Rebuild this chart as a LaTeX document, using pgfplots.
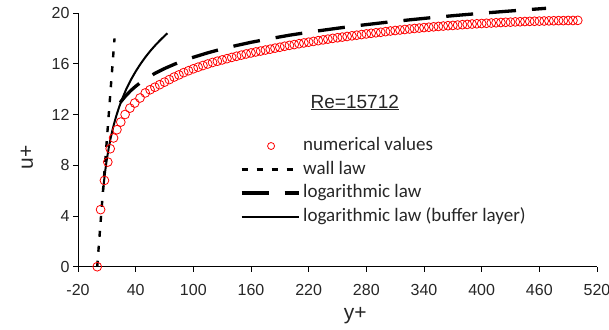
\documentclass[border=0pt]{standalone}
\usepackage{fontspec}
\setmainfont{Liberation Sans}
\newfontfamily\carlito{Carlito}
\usepackage{pgfplots}
\pgfplotsset{compat=1.18}
\pgfplotsset{
 lineleg/.style={legend image code/.code={\draw[##1] (0pt,0pt) -- (57pt,0pt);}},
 markleg/.style={legend image code/.code={\draw[##1, mark size=3.5pt] plot coordinates {(29.5pt,0pt)};}},
}
\begin{document}
\begin{tikzpicture}
\path[use as bounding box] (-78pt,-62.3pt) rectangle (531pt,266.7pt);
\begin{axis}[
 at={(0pt,0pt)}, anchor=south west,
 scale only axis, width=519pt, height=253.7pt,
 xmin=-20, xmax=520, ymin=0, ymax=20,
 axis x line*=bottom, axis y line*=left,
 axis line style={black, line width=0.8pt, -},
 xtick={-20,40,...,520}, ytick={0,4,...,20},
 xticklabels={-20,40,100,160,220,280,340,400,460,520},
 yticklabels={0,4,8,12,16,20},
 tick align=outside, major tick length=5pt,
 tick style={black, line width=0.8pt},
 ticklabel style={font=\fontsize{16}{16}\selectfont, text=black!85},
 xticklabel style={yshift=-9pt},
 clip=false,
 xlabel={y+}, ylabel={u+},
 label style={font=\fontsize{21}{21}\selectfont, text=black!85},
 xlabel style={at={(axis description cs:0.534,-0.192)}, anchor=center},
 ylabel style={at={(axis description cs:-0.0983,0.432)}, anchor=center},
 legend style={at={(axis description cs:0.312,0.522)}, anchor=north west,
   draw=none, fill=none, inner sep=0pt, outer sep=0pt,
   font=\carlito\fontsize{19}{19}\selectfont, text=black!85,
   row sep=0pt, column sep=0pt,
   nodes={inner xsep=3pt, inner ysep=3.25pt, text height=13pt, text depth=4pt}},
 legend cell align=left,
]
\addplot[only marks, mark=o, mark size=4.4pt, red, mark options={line width=0.8pt}, markleg]
 coordinates {
(0,0) (3.5,4.5) (7.5,6.8) (11,8.25) (13.5,9.3) (17,10.15) (20.5,10.8) (24.5,11.4)
(29,12.0) (34,12.5) (39,12.9) (44.5,13.3) (50,13.7) (55,13.95) (60,14.15) (65,14.35)
(70,14.55) (75,14.75) (80,14.95) (85,15.12) (90,15.3) (95,15.45) (100,15.6) (105,15.73)
(110,15.86) (115,15.98) (120,16.1) (125,16.2) (130,16.3) (135,16.4) (140,16.5) (145,16.59)
(150,16.68) (155,16.77) (160,16.85) (165,16.93) (170,17.0) (175,17.08) (180,17.15) (185,17.23)
(190,17.3) (195,17.38) (200,17.45) (205,17.51) (210,17.58) (215,17.64) (220,17.7) (225,17.76)
(230,17.82) (235,17.88) (240,17.94) (245,18.0) (250,18.05) (255,18.1) (260,18.15) (265,18.2)
(270,18.25) (275,18.3) (280,18.35) (285,18.4) (290,18.44) (295,18.48) (300,18.53) (305,18.58)
(310,18.62) (315,18.66) (320,18.7) (325,18.74) (330,18.78) (335,18.81) (340,18.85) (345,18.88)
(350,18.91) (355,18.94) (360,18.97) (365,19.0) (370,19.02) (375,19.05) (380,19.08) (385,19.1)
(390,19.13) (395,19.15) (400,19.17) (405,19.19) (410,19.21) (415,19.23) (420,19.25) (425,19.27)
(430,19.28) (435,19.3) (440,19.31) (445,19.33) (450,19.34) (455,19.35) (460,19.36) (465,19.37)
(470,19.38) (475,19.39) (480,19.4) (485,19.4) (490,19.41) (495,19.41) (500,19.42)
};
\addlegendentry{numerical values}
\addplot[black, line width=2.4pt, dash pattern=on 6pt off 9pt, lineleg]
 coordinates {(0,0) (18,18)};
\addlegendentry{wall law}
\addplot[black, line width=3.3pt, dash pattern=on 27pt off 16pt, lineleg]
 coordinates {
(24,12.94) (25,13.05) (30,13.50) (35,13.89) (40,14.22) (45,14.52) (50,14.78) (60,15.24)
(70,15.62) (80,15.95) (90,16.25) (100,16.51) (115,16.86) (130,17.17) (145,17.44) (160,17.69)
(180,17.98) (200,18.25) (225,18.54) (250,18.80) (275,19.04) (300,19.26) (325,19.46) (350,19.65)
(375,19.82) (400,19.98) (430,20.16) (467,20.37)
};
\addlegendentry{logarithmic law}
\addplot[black, line width=2pt, lineleg]
 coordinates {
(6,5.91) (7,6.68) (8,7.35) (9,7.94) (10,8.46) (12,9.37) (14,10.15) (16,10.81) (18,11.40)
(20,11.93) (23,12.63) (26,13.24) (30,13.96) (35,14.73) (40,15.39) (45,15.98) (50,16.51)
(55,16.99) (60,17.42) (65,17.82) (70,18.19) (73,18.40)
};
\addlegendentry{logarithmic law (buffer layer)}
\node[font=\fontsize{19}{19}\selectfont, text=black!85] at (axis cs:268,12.94) {\underline{Re=15712}};
\end{axis}
\end{tikzpicture}
\end{document}
